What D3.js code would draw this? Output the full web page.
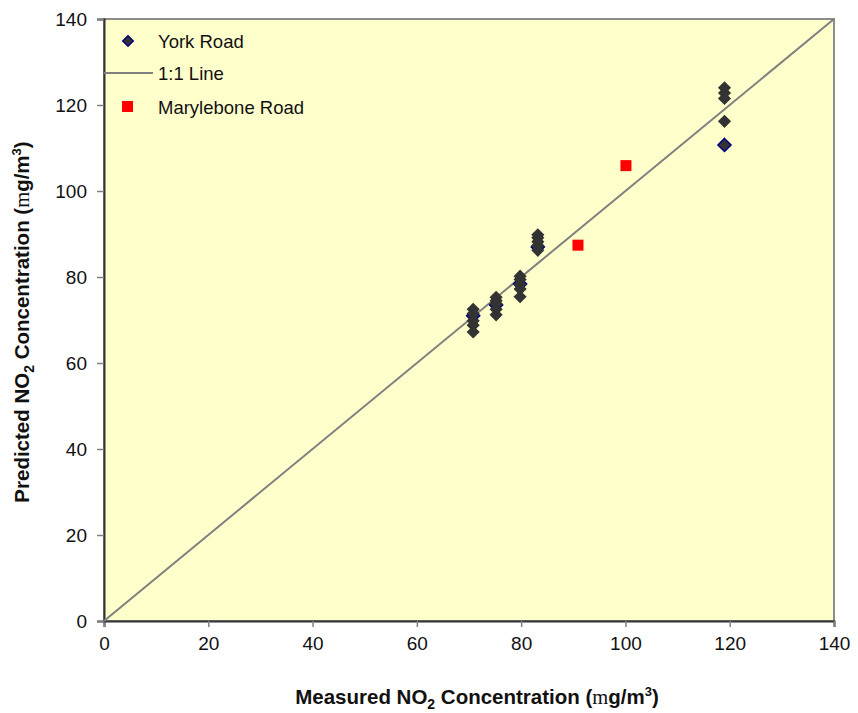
<!DOCTYPE html>
<html lang="en">
  <head>
    <meta charset="utf-8" />
    <title>Predicted vs measured NO2</title>
    <script src="https://cdn.jsdelivr.net/npm/d3@7"></script>
    <style>
      body { margin: 0; background: #fff; overflow: hidden; }
      svg { display: block; }
    </style>
  </head>
  <body>
    <svg id="chart" width="858" height="713"></svg>
    <script>
      // York Road model runs (measured, predicted)
      const yorkMeasured = [70.8, 75.2, 79.8, 83.2, 119];
      const yorkPredicted = [71, 73.5, 78.4, 87, 110.7];
      // other York Road runs (plotted without outline)
      const runsMeasured = [70.8, 70.8, 70.8, 70.8, 70.8,
                            75.2, 75.2, 75.2, 75.2, 75.2,
                            79.8, 79.8, 79.8, 79.8, 79.8,
                            83.2, 83.2, 83.2, 83.2, 83.2,
                            119, 119, 119, 119];
      const runsPredicted = [72.5, 71.5, 69.8, 68.8, 67.2,
                             75.3, 74.5, 73.8, 72.5, 71.2,
                             80.2, 79.4, 78.2, 77.2, 75.4,
                             89.8, 89.1, 88.2, 87.3, 86.2,
                             124, 122.8, 121.5, 116.2];
      const maryMeasured = [90.9, 100.1];
      const maryPredicted = [87.4, 105.9];
      const tickValues = [0, 20, 40, 60, 80, 100, 120, 140];

      const font = "Liberation Sans, Arial, sans-serif";
      const margin = { top: 19, right: 24, bottom: 92, left: 104 };
      const svg = d3.select("#chart").attr("font-family", font);
      const width = +svg.attr("width");
      const height = +svg.attr("height");
      const innerWidth = width - margin.left - margin.right;
      const innerHeight = height - margin.top - margin.bottom;

      const g = svg.append("g").attr("transform", `translate(${margin.left}, ${margin.top})`);

      const x = d3.scaleLinear().domain([0, 140]).range([0, innerWidth]);
      const y = d3.scaleLinear().domain([0, 140]).range([innerHeight, 0]);

      // plot area
      g.append("rect")
        .attr("width", innerWidth)
        .attr("height", innerHeight)
        .attr("fill", "#ffffcc")
        .attr("stroke", "#8c8c8c")
        .attr("stroke-width", 2);

      // axes
      const xAxis = g.append("g")
        .attr("transform", `translate(0, ${innerHeight})`)
        .call(d3.axisBottom(x).tickValues(tickValues).tickSize(6).tickPadding(9));
      const yAxis = g.append("g")
        .call(d3.axisLeft(y).tickValues(tickValues).tickSize(7).tickPadding(10));

      [xAxis, yAxis].forEach(function (ax) {
        ax.attr("font-family", font).attr("font-size", 19);
        ax.select(".domain").attr("stroke", "#333").attr("stroke-width", 2);
        ax.selectAll(".tick line").attr("stroke", "#808080").attr("stroke-width", 1.5);
        ax.selectAll("text")
          .attr("fill", "#111")
          .attr("dy", null);
      });
      // explicit baselines instead of em offsets
      xAxis.selectAll("text").attr("y", 29);
      yAxis.selectAll("text").attr("y", 6.5);

      // 1:1 line
      g.append("line")
        .attr("x1", x(0)).attr("y1", y(0))
        .attr("x2", x(140)).attr("y2", y(140))
        .attr("stroke", "#808080")
        .attr("stroke-width", 2);

      const diamond = d3.symbol().type(d3.symbolDiamond2).size(110);

      // York Road series
      g.selectAll(".york")
        .data(yorkMeasured.map((m, i) => [m, yorkPredicted[i]]))
        .join("path")
        .attr("class", "york")
        .attr("d", diamond)
        .attr("transform", (d) => `translate(${x(d[0])}, ${y(d[1])})`)
        .attr("fill", "#333")
        .attr("stroke", "#000080")
        .attr("stroke-width", 1.5);

      g.selectAll(".runs")
        .data(runsMeasured.map((m, i) => [m, runsPredicted[i]]))
        .join("path")
        .attr("class", "runs")
        .attr("d", diamond)
        .attr("transform", (d) => `translate(${x(d[0])}, ${y(d[1])})`)
        .attr("fill", "#333");

      // Marylebone Road
      g.selectAll(".mary")
        .data(maryMeasured.map((m, i) => [m, maryPredicted[i]]))
        .join("rect")
        .attr("class", "mary")
        .attr("x", (d) => x(d[0]) - 5.5)
        .attr("y", (d) => y(d[1]) - 5.5)
        .attr("width", 11)
        .attr("height", 11)
        .attr("fill", "#ff0000");

      // legend
      const legend = g.append("g").attr("font-size", "18.5px").attr("fill", "#111");
      legend.append("path")
        .attr("d", d3.symbol().type(d3.symbolDiamond2).size(70))
        .attr("transform", "translate(24, 22)")
        .attr("fill", "#333")
        .attr("stroke", "#000080")
        .attr("stroke-width", 1.5);
      legend.append("text").attr("x", 54).attr("y", 29).text("York Road");
      legend.append("line")
        .attr("x1", 0).attr("x2", 49).attr("y1", 54).attr("y2", 54)
        .attr("stroke", "#808080").attr("stroke-width", 2);
      legend.append("text").attr("x", 54).attr("y", 61).text("1:1 Line");
      legend.append("rect")
        .attr("x", 18).attr("y", 82).attr("width", 11).attr("height", 11)
        .attr("fill", "#ff0000");
      legend.append("text").attr("x", 54).attr("y", 95).text("Marylebone Road");

      // axis titles
      function title(sel, lead) {
        sel.attr("font-size", "20.5px").attr("font-weight", "700").attr("fill", "#111");
        sel.append("tspan").text(lead + " NO");
        sel.append("tspan").attr("font-size", "14px").attr("dy", 5).text("2");
        sel.append("tspan").attr("dy", -5).text(" Concentration (");
        sel.append("tspan").attr("font-family", "Liberation Serif, Times New Roman, serif").attr("font-weight", "400").text("m");
        sel.append("tspan").text("g/m");
        sel.append("tspan").attr("font-size", "13px").attr("dy", -8).text("3");
        sel.append("tspan").attr("dy", 8).text(")");
      }

      const xTitle = svg.append("text")
        .attr("x", 477)
        .attr("y", 704)
        .attr("text-anchor", "middle");
      title(xTitle, "Measured");

      const yTitle = svg.append("text")
        .attr("transform", "translate(29, 322) rotate(-90)")
        .attr("text-anchor", "middle");
      title(yTitle, "Predicted");
    </script>
  </body>
</html>
